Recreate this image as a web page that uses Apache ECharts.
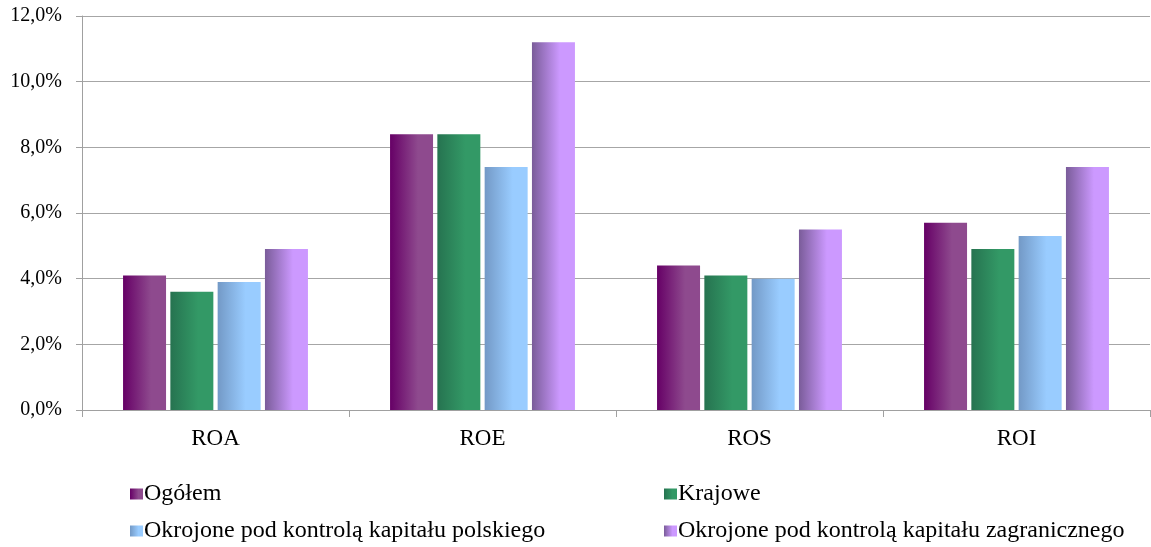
<!DOCTYPE html>
<html>
<head>
<meta charset="utf-8">
<script src="https://cdn.jsdelivr.net/npm/echarts@6/dist/echarts.min.js"></script>
<style>
  html, body { margin: 0; padding: 0; background: #fff; }
  #chart { width: 1151px; height: 547px; }
</style>
</head>
<body>
<div id="chart"></div>
<script>
// dane (%)
const categories = ['ROA', 'ROE', 'ROS', 'ROI'];
const seriesNames = [
  'Ogółem',
  'Krajowe',
  'Okrojone pod kontrolą kapitału polskiego',
  'Okrojone pod kontrolą kapitału zagranicznego'
];
const ogolem = [4.1, 8.4, 4.4, 5.7];
const krajowe = [3.6, 8.4, 4.1, 4.9];
const polskie = [3.9, 7.4, 4.0, 5.3];
const zagraniczne = [4.9, 11.2, 5.5, 7.4];

const font = "'Liberation Serif', 'Times New Roman', serif";

// gradient poziomy: ciemny z lewej, jasny z prawej
function grad(c1, c2) {
  return new echarts.graphic.LinearGradient(0, 0, 1, 0, [
    { offset: 0, color: c1 },
    { offset: 0.65, color: c2 },
    { offset: 1, color: c2 }
  ]);
}
const colors = [
  grad('#660066', '#8e4a8e'),
  grad('#267350', '#339966'),
  grad('#7399c6', '#99ccff'),
  grad('#7a5c99', '#cc99ff')
];
const allData = [ogolem, krajowe, polskie, zagraniczne];

const chart = echarts.init(document.getElementById('chart'));

const legendCommon = {
  orient: 'vertical',
  icon: 'rect',
  padding: 0,
  itemWidth: 13,
  itemHeight: 11,
  itemGap: 13,
  selectedMode: false,
  textStyle: { fontFamily: font, fontSize: 24, color: '#000', lineHeight: 24, padding: [0, 0, 0, -4] }
};

let option = {
  animation: false,
  grid: { left: 82, right: 1, top: 16, bottom: 137 },
  legend: [
    Object.assign({ left: 130, top: 482, data: [seriesNames[0], seriesNames[2]] }, legendCommon),
    Object.assign({ left: 664, top: 482, data: [seriesNames[1], seriesNames[3]] }, legendCommon)
  ],
  xAxis: {
    type: 'category',
    data: categories,
    axisLine: { lineStyle: { color: '#a0a0a0', width: 1 } },
    axisTick: { show: true, length: 7, lineStyle: { color: '#a0a0a0' } },
    axisLabel: { fontFamily: font, fontSize: 23, color: '#000', margin: 17 }
  },
  yAxis: {
    type: 'value',
    min: 0,
    max: 12,
    interval: 2,
    axisLine: { show: true, lineStyle: { color: '#a0a0a0', width: 1 } },
    axisTick: { show: true, length: 6, lineStyle: { color: '#a0a0a0' } },
    splitLine: { lineStyle: { color: '#a6a6a6', width: 1 } },
    axisLabel: {
      fontFamily: font, fontSize: 20, color: '#000', margin: 20,
      formatter: v => v.toFixed(1).replace('.', ',') + '%'
    }
  },
  series: seriesNames.map((name, i) => ({
    name: name,
    type: 'bar',
    barWidth: 43,
    barGap: '10%',
    itemStyle: { color: colors[i] },
    data: allData[i]
  }))
};
chart.setOption(option);
</script>
</body>
</html>
